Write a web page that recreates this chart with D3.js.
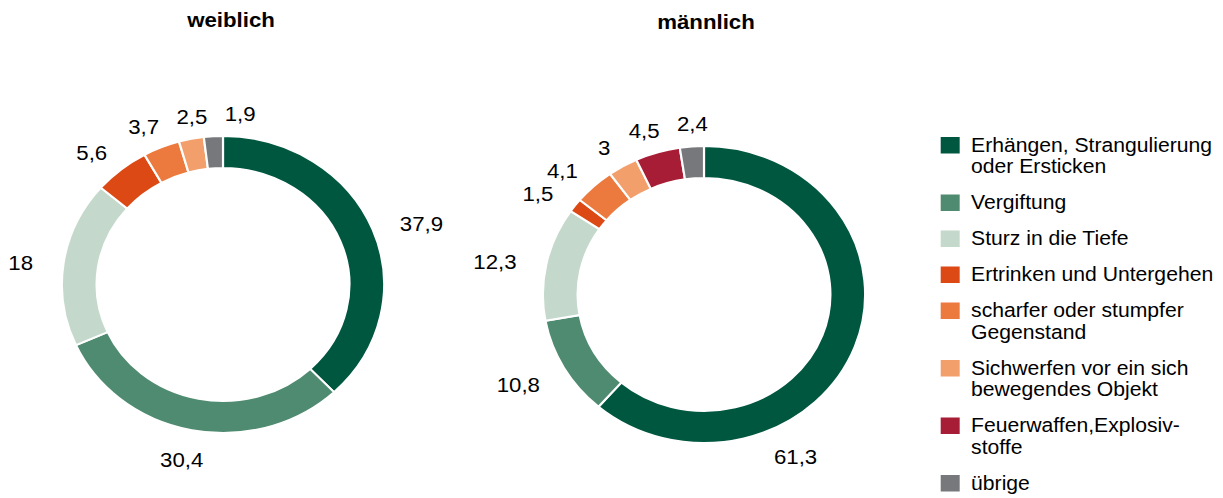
<!DOCTYPE html>
<html>
<head>
<meta charset="utf-8">
<script src="https://cdn.jsdelivr.net/npm/d3@7"></script>
<style>
  html, body { margin: 0; padding: 0; background: #fff; }
  svg { display: block; }
  text { font-family: "Liberation Sans", Arial, sans-serif; fill: #000; }
</style>
</head>
<body>
<svg id="chart" width="1223" height="498"></svg>
<script>
// ---- data ----
const categories = [
  "Erhängen, Strangulierung oder Ersticken",
  "Vergiftung",
  "Sturz in die Tiefe",
  "Ertrinken und Untergehen",
  "scharfer oder stumpfer Gegenstand",
  "Sichwerfen vor ein sich bewegendes Objekt",
  "Feuerwaffen,Explosivstoffe",
  "übrige"
];
const legendLines = [
  ["Erhängen, Strangulierung", "oder Ersticken"],
  ["Vergiftung"],
  ["Sturz in die Tiefe"],
  ["Ertrinken und Untergehen"],
  ["scharfer oder stumpfer", "Gegenstand"],
  ["Sichwerfen vor ein sich", "bewegendes Objekt"],
  ["Feuerwaffen,Explosiv-", "stoffe"],
  ["übrige"]
];
const colors = ["#00573f", "#4f8b70", "#c4d8cc", "#dc4915", "#ec7a3e", "#f29f6c", "#a81d36", "#77787b"];
const weiblich = [37.9, 30.4, 18, 5.6, 3.7, 2.5, null, 1.9];
const maennlich = [61.3, 10.8, 12.3, 1.5, 4.1, 3, 4.5, 2.4];
const titles = ["weiblich", "männlich"];

// ---- layout ----
const sx = 1.085; // horizontal stretch of the whole picture
const svg = d3.select("#chart");
const root = svg.append("g").attr("transform", `scale(${sx},1)`);

const charts = [
  { title: titles[0], values: weiblich, cx: 223 / sx, cy: 284.5, tx: 231 / sx, ty: 27 },
  { title: titles[1], values: maennlich, cx: 704 / sx, cy: 294.5, tx: 706 / sx, ty: 29 }
];

const outerR = 148.5, innerR = 116.5, labelR = 175;
const fmt = v => String(v).replace(".", ",");

const pie = d3.pie().sort(null).value(d => d.value);
const arc = d3.arc().innerRadius(innerR).outerRadius(outerR);

charts.forEach(ch => {
  const data = ch.values
    .map((v, i) => ({ value: v, idx: i }))
    .filter(d => d.value != null && d.value > 0);
  const arcs = pie(data);
  const g = root.append("g").attr("transform", `translate(${ch.cx},${ch.cy})`);

  g.selectAll("path").data(arcs).enter().append("path")
    .attr("d", arc)
    .attr("fill", d => colors[d.data.idx])
    .attr("stroke", "#fff")
    .attr("stroke-width", 2);

  root.append("text")
    .attr("x", ch.tx).attr("y", ch.ty)
    .attr("text-anchor", "middle")
    .attr("font-weight", "bold")
    .attr("font-size", 20.5)
    .text(ch.title);

  // labels
  const labels = arcs.map(d => {
    const span = d.endAngle - d.startAngle;
    const frac = span > Math.PI ? 0.7 : 0.5;
    const a = d.startAngle + span * frac;
    const t = g.append("text")
      .attr("font-size", 20.5)
      .attr("text-anchor", "middle")
      .attr("dy", "0.35em")
      .text(fmt(d.data.value));
    const w = t.node().getComputedTextLength();
    const x = labelR * Math.sin(a) + Math.sin(a) * (w / 2 + 2);
    const y = -labelR * Math.cos(a) + 4;
    return { t, x, y, w };
  });
  // simple collision pass: push overlapping labels clockwise (rightwards near top)
  for (let i = 1; i < labels.length; i++) {
    const p = labels[i - 1], c = labels[i];
    if (Math.abs(p.y - c.y) < 20) {
      const minX = p.x + p.w / 2 + 16 + c.w / 2;
      if (c.x < minX && c.x > p.x - 5) c.x = minX;
    }
  }
  labels.forEach(l => l.t.attr("x", l.x).attr("y", l.y));
});

// legend
const legX = 867, legTextX = 895;
let ly = 145;
const lineH = 21.5, gap = 14.5;
const leg = root.append("g");
legendLines.forEach((lines, i) => {
  leg.append("rect")
    .attr("x", legX).attr("y", ly - 8)
    .attr("width", 17.5).attr("height", 16.5)
    .attr("fill", colors[i]);
  lines.forEach((ln, j) => {
    leg.append("text")
      .attr("x", legTextX)
      .attr("y", ly + j * lineH)
      .attr("dy", "0.35em")
      .attr("font-size", 19.5)
      .text(ln);
  });
  ly += lines.length * lineH + gap;
});
</script>
</body>
</html>
